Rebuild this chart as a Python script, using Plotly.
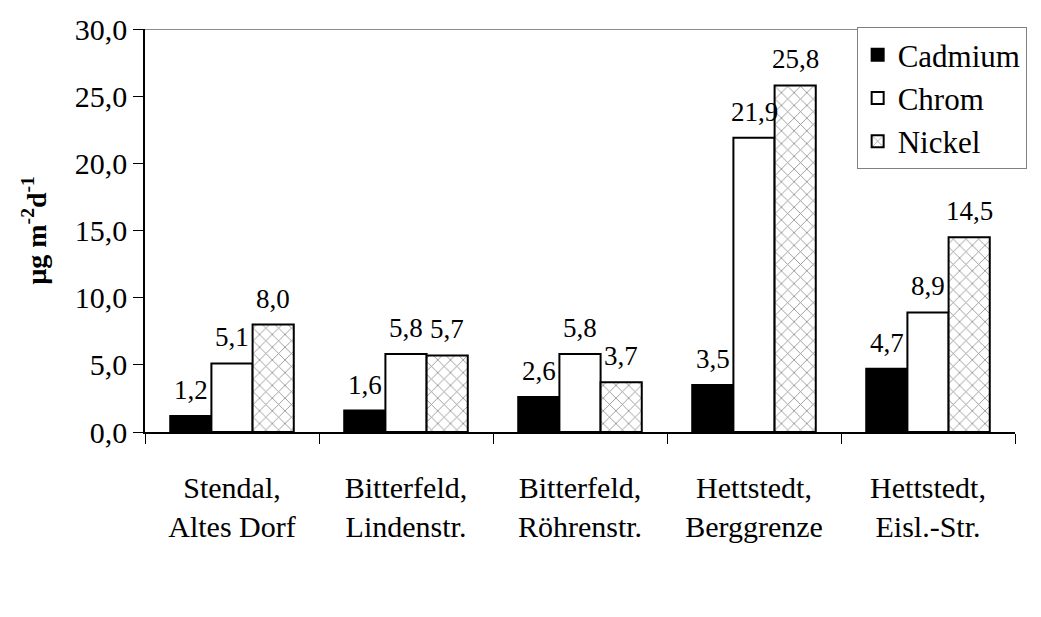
import plotly.graph_objects as go

categories = ["Stendal,<br>Altes Dorf", "Bitterfeld,<br>Lindenstr.", "Bitterfeld,<br>Röhrenstr.",
              "Hettstedt,<br>Berggrenze", "Hettstedt,<br>Eisl.-Str."]
cadmium = [1.2, 1.6, 2.6, 3.5, 4.7]
chrom = [5.1, 5.8, 5.8, 21.9, 8.9]
nickel = [8.0, 5.7, 3.7, 25.8, 14.5]
y_ticks = [0, 5, 10, 15, 20, 25, 30]

FONT = "Liberation Serif"
W, H = 1041, 617
ML, MR, MT, MB = 145, 26, 20, 185
BARGAP = 0.29

series = [("Cadmium", cadmium), ("Chrom", chrom), ("Nickel", nickel)]

fig = go.Figure()
fig.add_trace(go.Bar(x=categories, y=cadmium, name="Cadmium", legendgroup="a",
                     marker=dict(color="black", line=dict(color="black", width=2))))
fig.add_trace(go.Bar(x=categories, y=chrom, name="Chrom", legendgroup="b",
                     marker=dict(color="white", line=dict(color="black", width=2))))
fig.add_trace(go.Bar(x=categories, y=nickel, name="Nickel", legendgroup="c",
                     marker=dict(color="white", line=dict(color="black", width=2),
                                 pattern=dict(shape="x", fgcolor="#222222", bgcolor="white",
                                              size=9, solidity=0.18))))

# value labels above bars (offset within each group derived from layout settings)
bar_px = (W - ML - MR) / len(categories) * (1 - BARGAP) / len(series)
for i, (name, vals) in enumerate(series):
    for cat, v in zip(categories, vals):
        fig.add_annotation(x=cat, y=v, xref="x", yref="y", text=f"{v:.1f}".replace(".", ","),
                           showarrow=False, yanchor="bottom", xanchor="center",
                           xshift=(i - 1) * bar_px, yshift=9,
                           font=dict(family=FONT, size=27, color="black"))

fig.add_shape(type="line", xref="paper", yref="y", x0=0, x1=1, y0=30, y1=30,
              line=dict(color="#8c8c8c", width=2), layer="below")

fig.update_layout(
    width=W, height=H,
    margin=dict(l=ML, r=MR, t=MT, b=MB),
    paper_bgcolor="white", plot_bgcolor="white",
    separators=", ",
    barmode="group", bargap=BARGAP, bargroupgap=0,
    font=dict(family=FONT, size=30, color="black"),
    showlegend=True,
    legend=dict(x=0.818, y=1.005, xanchor="left", yanchor="top",
                bgcolor="white", bordercolor="#808080", borderwidth=1,
                font=dict(family=FONT, size=31, color="black"),
                tracegroupgap=0, itemwidth=30),
    yaxis=dict(range=[0, 30], tickvals=y_ticks, tickformat=".1f",
               showgrid=False, zeroline=False, showline=True, linecolor="black", linewidth=1.5,
               ticks="outside", ticklen=10, tickcolor="black", tickwidth=1,
               tickfont=dict(family=FONT, size=30), ticklabeloverflow="allow",
               title=dict(text="<b>µg m<sup>-2</sup>d<sup>-1</sup></b>",
                          font=dict(family=FONT, size=28), standoff=20)),
    xaxis=dict(showgrid=False, showline=True, linecolor="black", linewidth=1.5,
               ticks="outside", tickson="boundaries", ticklen=10, tickcolor="black",
               tickfont=dict(family=FONT, size=30), ticklabelstandoff=28),
)

fig.write_html("out.html", config={"displayModeBar": False},
               post_script="document.body.style.margin='0';")
